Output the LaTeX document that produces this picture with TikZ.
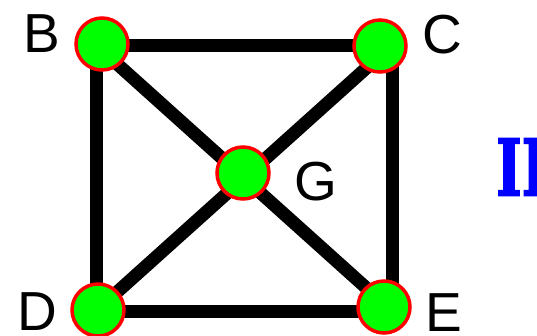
\documentclass[tikz,border=0pt]{standalone}
\usepackage{fontspec}
\setmainfont{Liberation Sans}
\newfontfamily\slabfont{DejaVu Serif}[BoldFeatures={FakeBold=2.5}]
\definecolor{vgreen}{RGB}{0,255,0}
\definecolor{vred}{RGB}{255,0,0}
\definecolor{vblue}{RGB}{0,0,255}
\begin{document}
\begin{tikzpicture}[x=1pt,y=-1pt,
  vertex/.style={circle,fill=vgreen,draw=vred,line width=3.5pt,minimum size=52pt,inner sep=0pt},
  edge/.style={line width=13pt,black},
  lbl/.style={font=\fontsize{55}{55}\selectfont,inner sep=0pt}]
\useasboundingbox (0,0) rectangle (537,335);
\clip (0,0) rectangle (537,335);
\coordinate (cB) at (96,45);
\coordinate (cC) at (392,45);
\coordinate (cD) at (96,311);
\coordinate (cE) at (392,311);
\draw[edge] (cB) -- (cC) -- (cE) -- (cD) -- cycle;
\draw[edge] (cB) -- (cE);
\draw[edge] (cC) -- (cD);
\node[vertex] (B) at (102,44) {};
\node[vertex] (C) at (380,46) {};
\node[vertex] (G) at (243,173) {};
\node[vertex] (D) at (98,310) {};
\node[vertex] (E) at (384,307) {};
\node[lbl] (lB) at (42,34) {B};
\node[lbl] (lC) at (442,35) {C};
\node[lbl] (lG) at (316,182) {G};
\node[lbl] (lD) at (37,312) {D};
\node[lbl] (lE) at (444,313) {E};
\node[font=\slabfont\bfseries\fontsize{78}{78}\selectfont,text=vblue,anchor=west,inner sep=0pt,xscale=0.7] (II) at (496,167) {II};
\end{tikzpicture}
\end{document}
